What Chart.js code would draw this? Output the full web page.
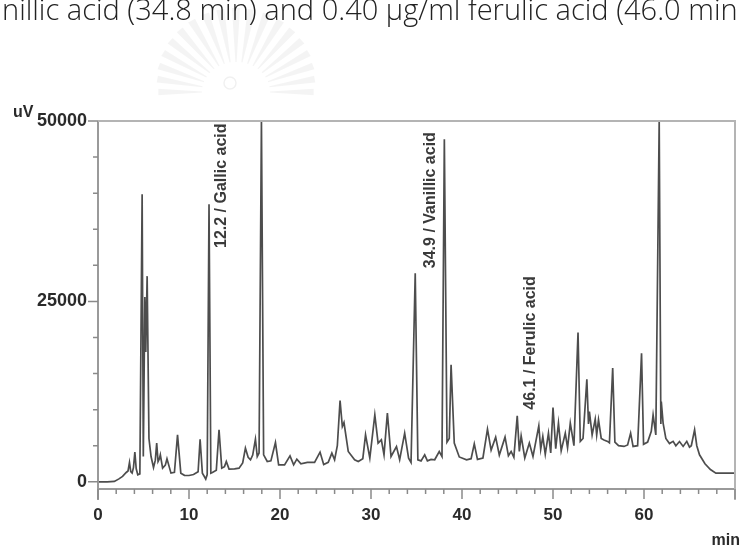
<!DOCTYPE html>
<html>
<head>
<meta charset="utf-8">
<script src="https://cdn.jsdelivr.net/npm/chart.js@4/dist/chart.umd.min.js"></script>
<style>
  html, body { margin: 0; padding: 0; background: #fff; }
  #wrap { position: relative; width: 741px; height: 546px; }
</style>
</head>
<body>
<div id="wrap"><canvas id="chroma" width="741" height="546"></canvas></div>
<script>
// ========== Data ==========
const retTime = [
  0, 1.0, 1.8, 2.3, 2.7, 3.1, 3.3, 3.46, 3.6, 3.75, 3.9, 4.05, 4.2, 4.37, 4.6,
  4.85, 4.98, 5.15, 5.25, 5.4, 5.6, 5.83, 6.1, 6.3, 6.45, 6.6, 6.75, 6.85, 7.1, 7.4,
  7.58, 8.02, 8.4, 8.74, 9.1, 9.5, 10.0, 10.5, 11.0, 11.22, 11.47, 11.7, 11.84, 12.0, 12.2,
  12.4, 12.57, 13.0, 13.3, 13.6, 13.9, 14.1, 14.4, 15.0, 15.5, 15.9, 16.2, 16.5, 16.76, 17.0,
  17.3, 17.5, 17.7, 17.96, 18.2, 18.6, 19.0, 19.5, 19.85, 20.5, 21.1, 21.5, 21.85, 22.3, 23.0,
  23.8, 24.4, 24.8, 25.3, 25.7, 26.0, 26.3, 26.6, 26.85, 27.03, 27.5, 28.2, 28.6, 29.1, 29.4,
  29.87, 30.42, 30.78, 31.14, 31.43, 31.8, 32.2, 32.8, 33.15, 33.7, 34.13, 34.4, 34.86, 35.15, 35.5,
  35.9, 36.2, 36.6, 37.0, 37.5, 37.8, 38.06, 38.35, 38.6, 38.8, 39.15, 39.7, 40.5, 41.0, 41.35,
  41.7, 42.3, 42.8, 43.2, 43.7, 44.1, 44.73, 45.1, 45.4, 45.7, 46.07, 46.3, 46.5, 46.9, 47.4,
  47.8, 48.44, 48.65, 48.88, 49.15, 49.5, 49.75, 50.0, 50.3, 50.6, 50.9, 51.35, 51.6, 51.9, 52.3,
  52.75, 53.0, 53.3, 53.72, 53.9, 54.0, 54.3, 54.64, 54.8, 55.0, 55.3, 55.6, 56.0, 56.2, 56.56,
  56.8, 57.2, 57.8, 58.2, 58.53, 58.8, 59.3, 59.73, 59.95, 60.4, 60.8, 61.0, 61.3, 61.67, 61.85,
  61.9, 62.1, 62.4, 62.8, 63.2, 63.5, 63.9, 64.3, 64.7, 65.0, 65.2, 65.56, 65.8, 66.1, 66.7,
  67.3, 67.9, 70
];
const signal = [
  0, 0, 50, 400, 740, 1290, 1500, 2680, 1400, 1200, 2000, 4110, 1800, 970, 1100,
  39850, 3500, 25600, 18000, 28500, 6000, 3500, 1980, 3000, 5360, 2810, 3200, 3740, 1890, 2300,
  3190, 1200, 1300, 6510, 1200, 900, 870, 1000, 1400, 5900, 1200, 700, 370, 1000, 38460,
  1200, 1290, 1600, 7200, 1890, 2100, 2810, 1750, 1800, 1890, 2600, 4660, 3400, 3050, 3700,
  5900, 3500, 4000, 50000, 3740, 2810, 2900, 5440, 2350, 2350, 3600, 2350, 3140, 2500, 2680,
  2700, 4110, 2400, 2700, 3970, 3050, 5000, 11260, 7660, 8210, 4200, 3050, 2810, 3200, 6510,
  3280, 9280, 5360, 5820, 3740, 9510, 3500, 4890, 3050, 6740, 3280, 2680, 28900, 3050, 2900,
  3740, 2900, 3100, 3050, 4200, 3500, 47460, 5500, 6000, 16200, 5360, 3440, 3050, 3200, 5260,
  3100, 3300, 7300, 4400, 6190, 3700, 6190, 3600, 4200, 3400, 9140, 4200, 6370, 3300, 5360,
  3500, 7750, 4500, 6280, 3800, 6740, 4000, 10290, 4600, 8130, 4300, 6740, 4700, 8130, 5000,
  20700, 5600, 6000, 14200, 8000, 9740, 6500, 8680, 6500, 8590, 6000, 5800, 5600, 5400, 15750,
  5500, 5000, 4900, 5100, 6740, 4900, 5000, 17800, 5200, 5500, 7000, 9280, 6500, 50000, 8000,
  11120, 8130, 6000, 5300, 5600, 5000, 5580, 4900, 5600, 4800, 5000, 7200, 5000, 3740, 2500,
  1700, 1200, 1200
];

const xTickVals = [0, 2, 4, 6, 8, 10, 12, 14, 16, 18, 20, 22, 24, 26, 28, 30, 32, 34, 36,
  38, 40, 42, 44, 46, 48, 50, 52, 54, 56, 58, 60, 62, 64, 66, 68, 70];
const xLabelVals = [0, 10, 20, 30, 40, 50, 60];
const yTickVals = [0, 5000, 10000, 15000, 20000, 25000, 30000, 35000, 40000, 45000, 50000];
const yLabelVals = [0, 25000, 50000];

const peakNames = ["12.2 / Gallic acid", "34.9 / Vanillic acid", "46.1 / Ferulic acid"];
const peakLabelTime = [13.55, 36.5, 47.5];
const peakLabelFrom = [32400, 29600, 10000];

const headerText = "nillic acid (34.8 min) and 0.40 \u00b5g/ml ferulic acid (46.0 min";

// ========== Plugins ==========
// scanned page bits: cut-off caption line + faint university emblem
const pagePlugin = {
  id: "page",
  beforeDraw(chart) {
    const ctx = chart.ctx;
    ctx.save();
    ctx.fillStyle = "#fff";
    ctx.fillRect(0, 0, chart.width, chart.height);

    // faint emblem (watermark): fan of wedges round a small circle
    const cx = 236, cy = 92;
    ctx.fillStyle = "rgba(0,0,0,0.045)";
    for (let i = 0; i <= 18; i++) {
      const a = Math.PI + (Math.PI * i) / 18;
      const r2 = 72 + 12 * Math.sin((Math.PI * i) / 18);
      const da = 0.045;
      ctx.beginPath();
      ctx.moveTo(cx + 34 * Math.cos(a - da * 0.4), cy + 30 * Math.sin(a - da * 0.4));
      ctx.lineTo(cx + r2 * 1.08 * Math.cos(a - da), cy + r2 * Math.sin(a - da));
      ctx.lineTo(cx + r2 * 1.08 * Math.cos(a + da), cy + r2 * Math.sin(a + da));
      ctx.lineTo(cx + 34 * Math.cos(a + da * 0.4), cy + 30 * Math.sin(a + da * 0.4));
      ctx.closePath();
      ctx.fill();
    }
    ctx.strokeStyle = "rgba(0,0,0,0.06)";
    ctx.lineWidth = 1.5;
    ctx.beginPath();
    ctx.arc(230, 83, 6, 0, Math.PI * 2);
    ctx.stroke();

    // caption line
    ctx.fillStyle = "#222";
    ctx.font = '300 22px "Open Sans"';
    const w = ctx.measureText(headerText).width;
    const size = 22 * 736 / w;
    ctx.font = '300 ' + size.toFixed(2) + 'px "Open Sans"';
    ctx.textBaseline = "alphabetic";
    ctx.textAlign = "left";
    ctx.fillText(headerText, 2, 20);
    ctx.restore();
  },
};

// frame, tick marks, unit labels
const framePlugin = {
  id: "frame",
  afterDatasetsDraw(chart) {
    const { ctx, chartArea: a, scales } = chart;
    const xs = scales.x, ys = scales.y;
    ctx.save();
    ctx.strokeStyle = "#9a9a9a";
    ctx.lineWidth = 2;
    ctx.beginPath();
    // left axis (runs a bit past the time axis)
    ctx.moveTo(a.left, a.top);
    ctx.lineTo(a.left, a.bottom + 11);
    // time axis
    ctx.moveTo(a.left, a.bottom);
    ctx.lineTo(a.right, a.bottom);
    ctx.stroke();

    ctx.strokeStyle = "#b4b4b4";
    ctx.beginPath();
    ctx.moveTo(a.left, a.top);
    ctx.lineTo(a.right, a.top);
    ctx.lineTo(a.right, a.bottom + 11);
    ctx.stroke();

    ctx.strokeStyle = "#8a8a8a";
    ctx.lineWidth = 1.5;
    ctx.beginPath();
    yTickVals.forEach((v) => {
      const y = ys.getPixelForValue(v);
      const len = yLabelVals.includes(v) ? 10 : 5;
      ctx.moveTo(a.left - len, y);
      ctx.lineTo(a.left, y);
    });
    xTickVals.forEach((t) => {
      const x = xs.getPixelForValue(t);
      const len = t % 10 === 0 ? 10 : 5;
      ctx.moveTo(x, a.bottom);
      ctx.lineTo(x, a.bottom + len);
    });
    ctx.stroke();

    ctx.fillStyle = "#2a2a2a";
    ctx.font = 'bold 16px "Liberation Sans"';
    ctx.textAlign = "left";
    ctx.textBaseline = "alphabetic";
    ctx.fillText("uV", 13, 117);
    ctx.textAlign = "right";
    ctx.fillText("min", 740, 545);
    ctx.restore();
  },
};

// rotated peak names
const peakLabelPlugin = {
  id: "peakLabels",
  afterDatasetsDraw(chart) {
    const { ctx, scales } = chart;
    ctx.save();
    ctx.fillStyle = "#3a3a3a";
    ctx.font = 'bold 16px "Liberation Sans"';
    ctx.textAlign = "left";
    ctx.textBaseline = "middle";
    peakNames.forEach((name, i) => {
      const x = scales.x.getPixelForValue(peakLabelTime[i]);
      const y = scales.y.getPixelForValue(peakLabelFrom[i]);
      ctx.save();
      ctx.translate(x, y);
      ctx.rotate(-Math.PI / 2);
      ctx.fillText(name, 0, 0);
      ctx.restore();
    });
    ctx.restore();
  },
};

// ========== Chart ==========
const ctx = document.getElementById("chroma").getContext("2d");
const chart = new Chart(ctx, {
  type: "line",
  data: {
    datasets: [{
      label: "signal",
      data: retTime.map((t, i) => ({ x: t, y: signal[i] })),
      borderColor: "#4d4d4d",
      borderWidth: 1.7,
      pointRadius: 0,
      tension: 0,
      fill: false,
    }],
  },
  options: {
    responsive: false,
    animation: false,
    devicePixelRatio: 1,
    layout: { padding: { top: 121, right: 2, bottom: 0, left: 0 } },
    plugins: { legend: { display: false }, tooltip: { enabled: false } },
    scales: {
      x: {
        type: "linear",
        min: 0,
        max: 70,
        afterBuildTicks: (s) => { s.ticks = xTickVals.map((v) => ({ value: v })); },
        afterFit: (s) => { s.height = 57; },
        border: { display: false },
        grid: { drawOnChartArea: false, drawTicks: true, tickLength: 10, tickColor: "rgba(0,0,0,0)" },
        ticks: {
          autoSkip: false,
          maxRotation: 0,
          padding: 6,
          color: "#2a2a2a",
          font: { family: "Liberation Sans", size: 17, weight: "bold" },
          callback: (v) => (xLabelVals.includes(v) ? String(v) : ""),
        },
      },
      y: {
        type: "linear",
        min: -1000,
        max: 50000,
        afterBuildTicks: (s) => { s.ticks = yTickVals.map((v) => ({ value: v })); },
        afterFit: (s) => { s.width = 98; },
        border: { display: false },
        grid: { drawOnChartArea: false, drawTicks: true, tickLength: 10, tickColor: "rgba(0,0,0,0)" },
        ticks: {
          autoSkip: false,
          padding: 1,
          color: "#2a2a2a",
          font: { family: "Liberation Sans", size: 18, weight: "bold" },
          callback: (v) => (yLabelVals.includes(v) ? String(v) : ""),
        },
      },
    },
  },
  plugins: [pagePlugin, framePlugin, peakLabelPlugin],
});
</script>
</body>
</html>
